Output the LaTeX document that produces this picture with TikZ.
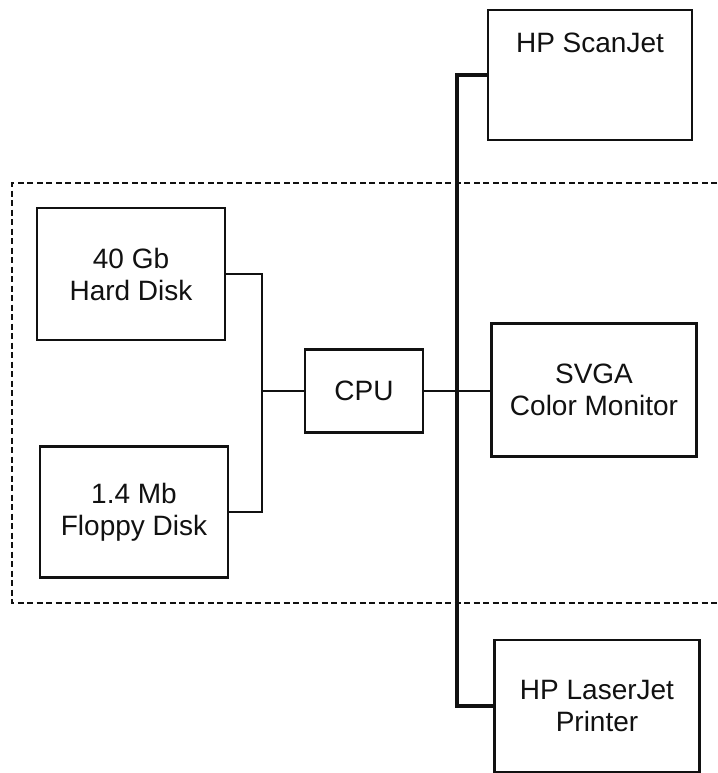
\documentclass[tikz,border=0pt]{standalone}
\usepackage{fontspec}
\setmainfont{Liberation Sans}
\usepackage{xcolor}
\usetikzlibrary{positioning,calc}
\definecolor{cInk}{HTML}{111111}
\tikzset{
  box/.style   = {draw=cInk, line width=2.8pt, align=center, inner sep=3pt,
                  font=\fontsize{28}{32}\selectfont, text=cInk},
  link/.style  = {draw=cInk, line width=2.6pt},
  bus/.style   = {draw=cInk, line width=4.2pt},
  frame/.style = {draw=cInk, line width=2pt, dash pattern=on 6pt off 3.5pt},
}
\begin{document}
\begin{tikzpicture}[x=1pt, y=-1pt]
  \useasboundingbox (0,0) rectangle (717,773);
  % system unit
  \draw[frame] (717,183) -- (12,183) -- (12,603) -- (717,603);
  \node[box, minimum width=188pt, minimum height=132pt] (hd) at (131,274)
    {40 Gb\\ Hard Disk};
  \node[box, minimum width=188pt, minimum height=131pt] (fd) at (134,512)
    {1.4 Mb\\ Floppy Disk};
  \node[box, minimum width=118pt, minimum height=83pt] (cpu) at (364,391) {CPU};
  \node[box, minimum width=205pt, minimum height=133pt] (mon) at (594,390)
    {SVGA\\ Color Monitor};
  % peripherals
  \node[box, minimum width=204pt, inner ysep=3pt, text height=40pt,
        text depth=84pt, anchor=base] (scan) at (590,53) {HP ScanJet};
  \node[box, minimum width=205pt, minimum height=132pt] (prn) at (597,706)
    {HP LaserJet\\ Printer};
  \coordinate (jn) at (262,391);
  \coordinate (busx) at (457,0);
  \draw[link] (hd.east) -| (jn) |- (fd.east);
  \draw[link] (jn) -- (cpu.west);
  \draw[bus] (scan.west) -- (scan.west -| busx) -- (prn.west -| busx) -- (prn.west);
  \draw[link] (cpu.east) -- (cpu.east -| mon.west);
\end{tikzpicture}
\end{document}
